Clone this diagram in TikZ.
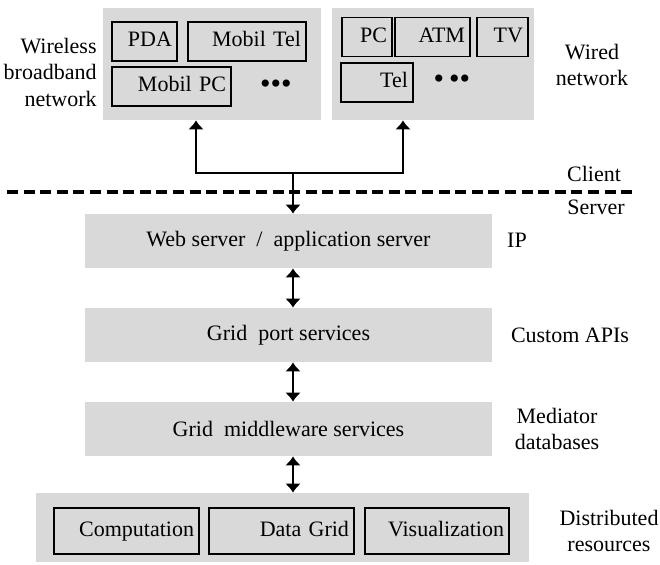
\documentclass[tikz,border=0pt]{standalone}
\usepackage{fontspec}
\setmainfont{Liberation Serif}
\usepackage{xcolor}
\usetikzlibrary{arrows.meta}
\definecolor{panelgray}{RGB}{217,217,217}

\begin{document}
\begin{tikzpicture}[
		x=0.5pt, y=-0.5pt, % one unit is one pixel of the sketch
		every node/.style={font=\fontsize{11}{13.25}\selectfont},
		panel/.style={rectangle, draw=none, fill=panelgray, minimum width=#1, minimum height=56pt},
		layer/.style={rectangle, draw=none, fill=panelgray, minimum width=203.5pt, minimum height=27pt},
		device/.style={rectangle, draw, line width=0.9pt, fill=panelgray, align=right, inner xsep=2.5pt, inner ysep=0pt, text height=7.5pt, text depth=2.2pt, minimum height=19.5pt, text width=#1},
		dots/.style={inner sep=0pt, font=\fontsize{15}{15}\selectfont},
		note/.style={align=center, inner sep=0pt},
		link/.style={line width=1pt, -{Latex[length=4.5pt, width=8pt]}},
		dlink/.style={line width=1pt, {Latex[length=4.5pt, width=8pt]}-{Latex[length=4.5pt, width=8pt]}},
		divider/.style={line width=2pt, dash pattern=on 5.5pt off 2.8pt}
		]
		
		% Frame of the whole sketch
		\useasboundingbox (0,0) rectangle (660,564);
		
		% Client networks
		\node[panel=109pt] (wless) at (212,64) {};
		\node[panel=101pt] (wired) at (433,64) {};
		\node[device=27.5pt] (pda) at (144.5,41.5) {PDA};
		\node[device=54pt] (mtel) at (247,41.5) {Mobil Tel};
		\node[device=54.5pt] (mpc) at (171.5,86.5) {Mobil PC};
		\node[dots] (wldots) at (276,87) {\textbullet\textbullet\textbullet};
		\node[device=20pt] (pc) at (367,37) {PC};
		\node[device=32.5pt] (atm) at (432.5,37) {ATM};
		\node[device=20.5pt] (tv) at (502.5,37) {TV};
		\node[device=31pt] (tel) at (377,82.5) {Tel\hspace{4pt}};
		\node[dots] (wddots) at (452,82) {\textbullet\,\textbullet\textbullet};
		\node[note, align=right, anchor=east] (wless-lbl) at (97,72) {Wireless\\broadband\\network};
		\node[note] (wired-lbl) at (592,65) {Wired\\network};
		
		% Client / server cut
		\coordinate (cutL) at (7,192);
		\coordinate (cutR) at (632,192);
		\draw[divider] (cutL) -- (cutR);
		\node[note] (client) at (594,174) {Client};
		\node[note] (server) at (596,207) {Server};
		
		% Server layers
		\node[layer] (web) at (288.5,241) {Web server\ \ /\ \ application server};
		\node[layer] (port) at (288.5,335) {Grid\ \ port services};
		\node[layer] (mid) at (288.5,429) {Grid\ \ middleware services};
		\node[note] (ip) at (517,240) {IP};
		\node[note] (apis) at (570,335) {Custom APIs};
		\node[note] (medi) at (557,429) {Mediator\\databases};
		
		% Resources
		\node[rectangle, fill=panelgray, minimum width=246.5pt, minimum height=34.5pt] (res) at (282.5,527.5) {};
		\node[device=67.5pt, minimum height=23pt] (comp) at (126.5,531) {Computation};
		\node[device=67.5pt, minimum height=23pt] (dgrid) at (281.5,531) {Data Grid\hspace{6pt}};
		\node[device=67pt, minimum height=23pt] (vis) at (437,531) {Visualization};
		\node[note] (distr) at (609,531) {Distributed\\resources};
		
		% Connectors
		\coordinate (jc) at (293,173);
		\coordinate (jl) at (196,173);
		\coordinate (jr) at (403,173);
		\draw[link] (jc) -- (jl) -- (jl |- wless.south);
		\draw[link] (jc) -- (jr) -- (jr |- wired.south);
		\draw[link] (jc) -- (jc |- web.north);
		\draw[dlink] (jc |- web.south) -- (jc |- port.north);
		\draw[dlink] (jc |- port.south) -- (jc |- mid.north);
		\draw[dlink] (jc |- mid.south) -- (jc |- res.north);
	\end{tikzpicture}
\end{document}
